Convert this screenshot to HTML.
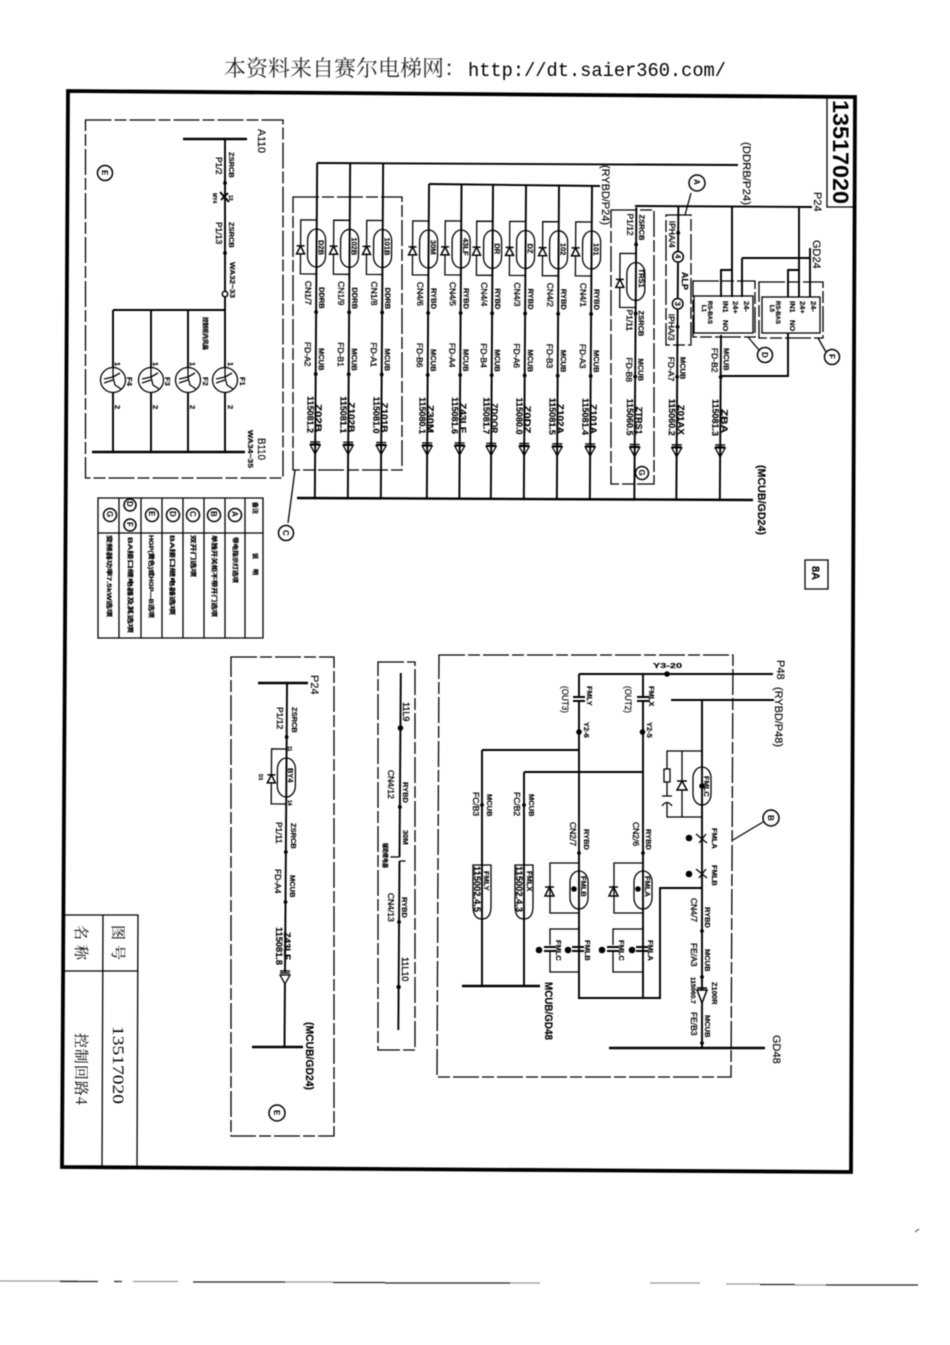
<!DOCTYPE html>
<html><head><meta charset="utf-8"><style>
html,body{margin:0;padding:0;background:#fff}
svg{display:block;filter:blur(.4px)}
text{font-family:"Liberation Sans","Noto Sans CJK SC",sans-serif;fill:#000;stroke:none}
.b{font-size:7.5px;font-weight:bold;stroke:#000;stroke-width:.15}
.r{font-size:8.5px;stroke:#000;stroke-width:.3}
.n{font-size:9px;font-weight:bold;stroke:#000;stroke-width:.15}
.m{font-size:11px;stroke:#000;stroke-width:.15}
.s{font-size:6px;font-weight:bold;stroke:#000;stroke-width:.2}
.c{font-size:8px;font-weight:bold}
.cn{font-family:"Noto Serif CJK SC",serif}
.w{stroke:#000;stroke-width:1.9;fill:none}
.h{stroke:#000;stroke-width:2.4;fill:none}
.l{stroke:#000;stroke-width:1.3;fill:none}
.d{stroke:#000;stroke-width:1.3;fill:none;stroke-dasharray:26 3 12 3}
.f{fill:#000;stroke:none}
.o{fill:#fff;stroke:#000;stroke-width:1.5}
</style></head><body>
<svg xmlns="http://www.w3.org/2000/svg" width="950" height="1345" viewBox="0 0 950 1345">
<defs>
<g id="a"><path class="l" d="M-5 443H5M-5 445H5"/><path class="l" d="M-5 446H5L0 455Z"/><circle class="f" cx="0" cy="375" r="1.9"/></g>
<g id="k"><rect x="-9" y="-19" width="18" height="38" rx="9" ry="11" class="l"/><path class="l" d="M0 -28H-16V26H0M-16 -8V8"/><path class="o" d="M-20 6H-12L-16 -2ZM-20 -2H-12"/></g>
<g id="c"><use href="#k" y="249"/><use href="#a"/><circle class="f" cx="0" cy="313" r="1.9"/></g>
<g id="kk"><rect x="-9" y="-19" width="18" height="38" rx="9" ry="11" class="l"/><path class="o" d="M-34 6H-25L-29.500 -3ZM-34 -3H-25"/><path class="l" d="M0 -27H-29V23H0"/></g>
<g id="fan"><circle r="12.500" class="l"/><path class="l" d="M0 -12.500V-2M-9 -1L0 -3L7 -7M0 -3L2 5L8 9M-9 3L0 0"/></g>
</defs>
<!-- frame -->
<path d="M68 91L855 97L851 1172L62 1167Z" fill="none" stroke="#000" stroke-width="3.800"/>
<path class="l" d="M827 97V207H855M65 915H138L137 1167M103 915L102 1167M65 971H138"/>
<path class="l" d="M805 560H828V589H805Z"/>
<text x="224" y="76" font-size="22" class="cn" fill-opacity=".85">本资料来自赛尔电梯网：</text>
<text x="468" y="76" font-size="19" textLength="258" lengthAdjust="spacingAndGlyphs" style="font-family:'Liberation Mono',monospace">http://dt.saier360.com/</text>
<!-- noise line -->
<path d="M0 1281H78M133 1281.500H178M285 1282H333M510 1283H540M650 1283H700M726 1284H760M795 1285H826" stroke="#999" stroke-width="1.200"/>
<path d="M60 1281.500H98M114 1281.500H122M193 1282H285M333 1282.500H385M385 1283H510M760 1284.500H795M826 1285H918" stroke="#222" stroke-width="1.200"/>
<path d="M915 1232l4 -3" stroke="#444"/>

<!-- buses -->
<path class="w" d="M317 163L738 165M429 184L600 186"/>
<path class="h" d="M297 498L753 500"/>
<path class="w" d="M635 206L812 207M742 258H810M810 248V297M742 258V297M732 207V297M721 297V270H732M799 207V297M788 297V270H799M788 333V376H721"/>
<!-- dashed boxes -->
<rect class="d" x="293" y="197" width="109" height="273"/>
<rect class="d" x="611" y="210" width="43" height="274"/>
<rect class="d" x="666" y="215" width="25" height="130"/>
<rect class="d" x="693" y="281" width="62" height="56"/>
<rect class="d" x="759" y="282" width="64" height="56"/>
<rect class="l" x="694" y="296" width="59" height="37"/>
<rect class="l" x="762" y="297" width="58" height="36"/>
<rect class="d" x="85.500" y="120" width="197.500" height="358"/>
<rect class="d" x="231" y="657" width="103" height="479"/>
<rect class="d" x="378" y="662" width="37" height="388"/>
<path class="d" d="M439 655H733L731 1077H437Z"/>
<!-- columns -->
<g transform="translate(316 -1)rotate(.4 0 330)"><path class="w" d="M0 164V498"/><use href="#c"/><g transform="rotate(90)"><text class="b" x="241" y="-2">D2B</text><text class="r" x="282" y="11">CN1/7</text><text class="b" x="288" y="-3">DDRB</text><text class="r" x="343" y="11">FD-A2</text><text class="b" x="349" y="-3">MCUB</text><text class="n" x="397" y="8">115081.2</text><text class="n" x="405" y="0" textLength="28" lengthAdjust="spacingAndGlyphs">Z02B</text></g></g>
<g transform="translate(349 -.7)rotate(.4 0 330)"><path class="w" d="M0 164V498"/><use href="#c"/><g transform="rotate(90)"><text class="b" x="238" y="-2">102B</text><text class="r" x="282" y="11">CN1/9</text><text class="b" x="288" y="-3">DDRB</text><text class="r" x="343" y="11">FD-B1</text><text class="b" x="349" y="-3">MCUB</text><text class="n" x="397" y="8">115081.1</text><text class="n" x="403" y="0" textLength="30" lengthAdjust="spacingAndGlyphs">Z102B</text></g></g>
<g transform="translate(382 -.5)rotate(.4 0 330)"><path class="w" d="M0 164V498"/><use href="#c"/><g transform="rotate(90)"><text class="b" x="238" y="-2">101B</text><text class="r" x="282" y="11">CN1/8</text><text class="b" x="288" y="-3">DDRB</text><text class="r" x="343" y="11">FD-A1</text><text class="b" x="349" y="-3">MCUB</text><text class="n" x="397" y="8">115081.0</text><text class="n" x="403" y="0" textLength="30" lengthAdjust="spacingAndGlyphs">Z101B</text></g></g>
<g transform="translate(428 0)rotate(.4 0 330)"><path class="w" d="M0 184V498"/><use href="#c"/><g transform="rotate(90)"><text class="b" x="240" y="-2">30M</text><text class="r" x="282" y="11">CN4/6</text><text class="b" x="288" y="-3">RYBD</text><text class="r" x="343" y="11">FD-B6</text><text class="b" x="349" y="-3">MCUB</text><text class="n" x="397" y="8">115080.1</text><text class="n" x="405" y="0" textLength="28" lengthAdjust="spacingAndGlyphs">Z30M</text></g></g>
<g transform="translate(460.500 0)rotate(.4 0 330)"><path class="w" d="M0 184V498"/><use href="#c"/><g transform="rotate(90)"><text class="b" x="238" y="-2">43LF</text><text class="r" x="282" y="11">CN4/5</text><text class="b" x="288" y="-3">RYBD</text><text class="r" x="343" y="11">FD-A4</text><text class="b" x="349" y="-3">MCUB</text><text class="n" x="397" y="8">115081.6</text><text class="n" x="403" y="0" textLength="30" lengthAdjust="spacingAndGlyphs">Z43LF</text></g></g>
<g transform="translate(492 .3)rotate(.4 0 330)"><path class="w" d="M0 184V498"/><use href="#c"/><g transform="rotate(90)"><text class="b" x="243" y="-2">DR</text><text class="r" x="282" y="11">CN4/4</text><text class="b" x="288" y="-3">RYBD</text><text class="r" x="343" y="11">FD-B4</text><text class="b" x="349" y="-3">MCUB</text><text class="n" x="397" y="8">115081.7</text><text class="n" x="403" y="0" textLength="30" lengthAdjust="spacingAndGlyphs">ZDOOR</text></g></g>
<g transform="translate(525 .5)rotate(.4 0 330)"><path class="w" d="M0 184V498"/><use href="#c"/><g transform="rotate(90)"><text class="b" x="243" y="-2">DZ</text><text class="r" x="282" y="11">CN4/3</text><text class="b" x="288" y="-3">RYBD</text><text class="r" x="343" y="11">FD-A6</text><text class="b" x="349" y="-3">MCUB</text><text class="n" x="397" y="8">115080.0</text><text class="n" x="405" y="0" textLength="28" lengthAdjust="spacingAndGlyphs">Z0DZ</text></g></g>
<g transform="translate(558 .8)rotate(.4 0 330)"><path class="w" d="M0 184V498"/><use href="#c"/><g transform="rotate(90)"><text class="b" x="242" y="-2">102</text><text class="r" x="282" y="11">CN4/2</text><text class="b" x="288" y="-3">RYBD</text><text class="r" x="343" y="11">FD-B3</text><text class="b" x="349" y="-3">MCUB</text><text class="n" x="397" y="8">115081.5</text><text class="n" x="403" y="0" textLength="30" lengthAdjust="spacingAndGlyphs">Z102A</text></g></g>
<g transform="translate(591 1)rotate(.4 0 330)"><path class="w" d="M0 184V498"/><use href="#c"/><g transform="rotate(90)"><text class="b" x="242" y="-2">101</text><text class="r" x="282" y="11">CN4/1</text><text class="b" x="288" y="-3">RYBD</text><text class="r" x="343" y="11">FD-A3</text><text class="b" x="349" y="-3">MCUB</text><text class="n" x="397" y="8">115081.4</text><text class="n" x="403" y="0" textLength="30" lengthAdjust="spacingAndGlyphs">Z101A</text></g></g>
<!-- G col -->
<g transform="translate(635.500 1.500)rotate(.4 0 330)"><path class="w" d="M0 206V498"/><use href="#k" y="280"/><use href="#a"/><circle class="f" cy="243" r="1.900"/><circle class="f" cy="312" r="1.900"/><g transform="rotate(90)"><text class="b" x="267" y="-3">TRS1</text><text class="r" x="212" y="9">P1/12</text><text class="b" x="213" y="-3">ZSRCB</text><text class="r" x="308" y="9">P1/11</text><text class="b" x="309" y="-3">ZSRCB</text><text class="r" x="356" y="9">FD-B8</text><text class="b" x="357" y="-3">MCUB</text><text class="n" x="397" y="8">115060.5</text><text class="n" x="405" y="-1" textLength="28" lengthAdjust="spacingAndGlyphs">ZTRS1</text></g></g>
<circle class="o" cx="642" cy="473" r="6.500"/><text class="c" transform="translate(639 469.500)rotate(90)">G</text>
<!-- ALP col -->
<g transform="translate(677.500 1.800)rotate(.4 0 330)"><path class="w" d="M0 205V498"/><use href="#a"/><circle class="f" cy="231" r="1.900"/><circle class="f" cy="325" r="1.900"/><circle class="o" cy="255" r="5.300"/><circle class="o" cy="302" r="5.300"/><g transform="rotate(90)"><text class="b" x="252.500" y="2.500">4</text><text class="b" x="300" y="2.500">3</text><text class="r" x="219" y="9">IPHA/4</text><text class="r" x="312" y="9">IPHA/3</text><text class="b" x="270" y="-4" style="font-size:9px">ALP</text><text class="r" x="355" y="9">FD-A7</text><text class="b" x="355" y="-3">MCUB</text><text class="n" x="397" y="8">115060.2</text><text class="n" x="403" y="-1" textLength="30" lengthAdjust="spacingAndGlyphs">Z01AX</text></g></g>
<!-- BA col -->
<g transform="translate(721 2)rotate(.4 0 330)"><path class="w" d="M0 333V498"/><use href="#a"/><g transform="rotate(90)"><text class="r" x="346" y="9">FD-B2</text><text class="b" x="346" y="-3">MCUB</text><text class="n" x="397" y="8">115081.3</text><text class="n" x="407" y="-1" textLength="24" lengthAdjust="spacingAndGlyphs">ZBA</text></g></g>
<path class="l" d="M691 193L685 215M748 337L759 350M818 338L826 352M295 470L288 523M733 840L763 822"/>
<circle class="o" cx="697" cy="183" r="8"/><circle class="o" cx="765" cy="355" r="7.500"/><circle class="o" cx="832" cy="357" r="7.500"/><circle class="o" cx="286" cy="533" r="7.500"/><circle class="o" cx="771" cy="818" r="8"/><circle class="o" cx="105" cy="173" r="7.500"/><circle class="o" cx="277" cy="1113" r="8"/>

<!-- E fans -->
<path class="h" d="M183 139H247M92 452H245"/>
<path class="w" d="M225 139V367M225 393V452M113 310H225M113 310V367M113 393V452M151 310V367M151 393V452M188 310V367M188 393V452"/>
<circle class="f" cx="225" cy="183" r="1.900"/><circle class="f" cx="225" cy="253" r="1.900"/><circle class="o" cx="225" cy="294" r="2.700"/>
<path class="w" d="M220 192L229 202M221 200L228 193"/>
<use href="#fan" x="113" y="380"/><use href="#fan" x="151" y="380"/><use href="#fan" x="188" y="380"/><use href="#fan" x="225" y="380"/>
<!-- BY4 col -->
<path class="h" d="M258 683H308M252 1047H303"/>
<g transform="translate(285.800 0)rotate(.4 0 860)"><path class="w" d="M0 683V972M0 984V1047"/><rect x="-9" y="758" width="18" height="39" rx="9" ry="11" class="l"/><path class="l" d="M0 749H-15V804H0"/><path class="o" d="M-19 783H-11L-15 775ZM-19 775H-11"/><circle class="f" cy="737" r="1.900"/><circle class="f" cy="852" r="1.900"/><circle class="f" cy="902" r="1.900"/><path class="l" d="M-5 971H5M-5 973H5M-5 975H5L0 984Z"/></g>
<!-- 30M col -->
<g transform="translate(399.500 0)rotate(.4 0 860)"><path class="w" d="M0 673V857M0 861V1030"/><path class="l" d="M-9 857H0M0 861H6"/><circle class="f" cy="728" r="2.800"/><circle class="f" cy="807" r="1.900"/><circle class="f" cy="922" r="1.900"/><circle class="f" cy="987" r="2.200"/></g>
<!-- B section -->
<path class="w" d="M579 674H773M671 700H774M579 674V697M579 701V998M643 674V697M643 701V998M578 998H660V888H702M482 750H579M524 772H642M482 750V986M524 772V986"/>
<path class="w" d="M702 700V1048"/>
<path class="h" d="M462 986H540M609 1048H765"/>
<path class="w" d="M573 697H585M573 701H585M637 697H649M637 701H649"/>
<circle class="f" cx="667" cy="674" r="2.800"/><circle class="f" cx="579" cy="732" r="2.800"/><circle class="f" cx="642.500" cy="732" r="2.800"/>
<circle class="f" cx="482" cy="805" r="1.900"/><circle class="f" cx="524" cy="805" r="1.900"/><circle class="f" cx="579" cy="853" r="1.900"/><circle class="f" cx="643" cy="853" r="1.900"/>
<circle class="f" cx="702" cy="931" r="1.900"/><circle class="f" cx="702" cy="977" r="1.900"/><circle class="f" cx="702" cy="1043" r="1.900"/>
<path class="l" d="M473 865V906Q473 919 482 919Q491 919 491 906V865ZM515 865V906Q515 919 524 919Q533 919 533 906V865Z"/>
<rect class="l" x="693" y="767" width="18" height="38" rx="9" ry="11"/>
<path class="l" d="M702 751H667V769M667 782V796M667 803V817H702M682 751V817"/>
<rect class="l" x="664" y="769" width="6" height="13"/>
<path class="l" d="M662 796H672M662 806Q667 799 672 806"/>
<path class="o" d="M677 790H687L682 781ZM677 781H687"/>
<path class="l" d="M696 834L707 843M699 843L706 834M696 869L707 878M699 878L706 869"/>
<circle class="f" cx="689" cy="838" r="3.300"/><circle class="f" cx="689" cy="874" r="3.300"/>
<use href="#kk" x="579" y="890"/><use href="#kk" x="643" y="890"/>
<path class="l" d="M579 929H550V945M550 951V972H579M643 929H613V945M613 951V972H643"/>
<path class="w" d="M544 947H556M544 951H556M607 947H619M607 951H619M572 947H584M572 951H584M636 947H648M636 951H648"/>
<circle class="f" cx="539" cy="950" r="3.300"/><circle class="f" cx="568" cy="950" r="3.300"/><circle class="f" cx="602" cy="950" r="3.300"/><circle class="f" cx="632" cy="950" r="3.300"/>
<circle class="f" cx="574" cy="889" r="2.800"/><circle class="f" cx="638" cy="889" r="2.800"/><circle class="f" cx="702" cy="786" r="2.800"/>
<path class="o" d="M697 990H707L702 1003ZM697 988H707"/>
<!-- table -->
<path class="l" d="M98 498H263V638H98ZM98 533H263M119 498V638M141 498V638M162 498V638M183 498V638M204 498V638M225 498V638M245 498V638"/>
<circle class="o" cx="110" cy="515" r="6.500"/><circle class="o" cx="130" cy="505" r="6"/><circle class="o" cx="130" cy="525" r="6"/><circle class="o" cx="152" cy="515" r="6.500"/><circle class="o" cx="173" cy="515" r="6.500"/><circle class="o" cx="193" cy="515" r="6.500"/><circle class="o" cx="214" cy="515" r="6.500"/><circle class="o" cx="235" cy="515" r="6.500"/>

<g transform="rotate(90)">
<text font-size="22" font-weight="bold" x="100" y="-833" textLength="104" lengthAdjust="spacingAndGlyphs">13517020</text>
<text class="m" x="142" y="-743" textLength="63" lengthAdjust="spacingAndGlyphs">(DDRB/P24)</text>
<text class="m" x="165" y="-602" textLength="60" lengthAdjust="spacingAndGlyphs">(RYBD/P24)</text>
<text class="m" x="192" y="-814">P24</text>
<text class="m" x="240" y="-813">GD24</text>
<text class="m" font-weight="bold" x="465" y="-758" textLength="70" lengthAdjust="spacingAndGlyphs">(MCUB/GD24)</text>
<text class="m" font-weight="bold" x="566" y="-812">8A</text>
<text class="b" x="301" y="-723">IN1</text><text class="b" x="301" y="-733">24+</text><text class="b" x="301" y="-744">24-</text><text class="b" x="320" y="-723">NO</text>
<text class="b" x="301" y="-790">IN1</text><text class="b" x="301" y="-800">24+</text><text class="b" x="301" y="-811">24-</text><text class="b" x="320" y="-790">NO</text>
<text class="s" x="301" y="-708">RS-BAS</text><text class="s" x="305" y="-702">L1</text>
<text class="s" x="301" y="-776">RS-BAS</text><text class="s" x="305" y="-770">L5</text>
<text class="c" x="179" y="-694">A</text><text class="c" x="352" y="-762">D</text><text class="c" x="354" y="-829">F</text><text class="c" x="530" y="-283">C</text><text class="c" x="815" y="-768">B</text><text class="c" x="170" y="-102">E</text><text class="c" x="1110" y="-274">E</text>
<!-- E text -->
<text class="m" x="129" y="-258" textLength="24" lengthAdjust="spacingAndGlyphs">A110</text>
<text class="m" x="438" y="-258" textLength="22" lengthAdjust="spacingAndGlyphs">B110</text>
<text class="b" x="430" y="-248" textLength="38" lengthAdjust="spacingAndGlyphs">WA34~35</text>
<text class="b" x="152" y="-229">ZSRCB</text><text class="r" x="157" y="-216">P1/2</text>
<text class="s" x="193" y="-213" style="font-size:5px">MY4</text><text class="s" x="195" y="-229" style="font-size:5px">13</text>
<text class="b" x="222" y="-229">ZSRCB</text><text class="r" x="222" y="-216">P1/13</text>
<text class="b" x="262" y="-230" textLength="36" lengthAdjust="spacingAndGlyphs">WA32~33</text>
<text class="s" x="317" y="-203" textLength="33" lengthAdjust="spacingAndGlyphs">控制柜内风扇</text>
<text class="b" x="362" y="-228">1</text><text class="b" x="362" y="-190">1</text><text class="b" x="362" y="-153">1</text><text class="b" x="362" y="-115">1</text>
<text class="b" x="405" y="-228">2</text><text class="b" x="405" y="-190">2</text><text class="b" x="405" y="-153">2</text><text class="b" x="405" y="-115">2</text>
<text class="b" x="377" y="-240">F1</text><text class="b" x="377" y="-203">F2</text><text class="b" x="377" y="-165">F3</text><text class="b" x="377" y="-127">F4</text>
<!-- table text -->
<text class="s" x="502" y="-253">备注</text><text class="s" x="553" y="-253" textLength="22">说 明</text>
<text class="c" x="511" y="-232">A</text><text class="c" x="511" y="-211">B</text><text class="c" x="511" y="-190">C</text><text class="c" x="511" y="-170">D</text><text class="c" x="511" y="-149">E</text><text class="c" x="501" y="-127">D</text><text class="c" x="522" y="-127">F</text><text class="c" x="511" y="-107">G</text>
<text class="s" x="537" y="-233" textLength="46" lengthAdjust="spacingAndGlyphs">带电指示灯选项</text>
<text class="s" x="535" y="-212" textLength="82" lengthAdjust="spacingAndGlyphs">单独开关柜不带开门选项</text>
<text class="s" x="535" y="-191" textLength="42" lengthAdjust="spacingAndGlyphs">双开门选项</text>
<text class="s" x="535" y="-170" textLength="80" lengthAdjust="spacingAndGlyphs">BA接口继电器选项</text>
<text class="s" x="535" y="-149" textLength="83" lengthAdjust="spacingAndGlyphs">HGP(黄色)或HGP—B选项</text>
<text class="s" x="537" y="-128" textLength="96" lengthAdjust="spacingAndGlyphs">BA接口继电器及其选项</text>
<text class="s" x="535" y="-107" textLength="82" lengthAdjust="spacingAndGlyphs">变频器功率7.5kW选项</text>
<!-- BY4 -->
<text class="m" x="675" y="-311">P24</text>
<text class="b" x="707" y="-292">ZSRCB</text><text class="r" x="707" y="-277">P1/12</text>
<text class="b" x="768" y="-288">BY4</text><text class="s" x="774" y="-259" style="font-size:5px">D1</text>
<text class="s" x="746" y="-288" style="font-size:5px">11</text><text class="s" x="800" y="-288" style="font-size:5px">14</text>
<text class="b" x="823" y="-291">ZSRCB</text><text class="r" x="822" y="-276">P1/11</text>
<text class="r" x="869" y="-275">FD-A4</text><text class="b" x="875" y="-290">MCUB</text>
<text class="n" x="927" y="-276" textLength="38" lengthAdjust="spacingAndGlyphs">115081.8</text>
<text class="n" x="932" y="-284" textLength="28" lengthAdjust="spacingAndGlyphs">Z43LF</text>
<text class="m" font-weight="bold" x="1022" y="-306" textLength="68" lengthAdjust="spacingAndGlyphs">(MCUB/GD24)</text>
<!-- 30M -->
<text class="r" x="702" y="-403" style="font-size:9px">11L9</text>
<text class="b" x="782" y="-403">RYBD</text><text class="r" x="770" y="-388">CN4/12</text>
<text class="b" x="830" y="-403">30M</text><text class="s" x="843" y="-383" textLength="25" lengthAdjust="spacingAndGlyphs">辅助继电器</text>
<text class="r" x="893" y="-388">CN4/13</text><text class="b" x="897" y="-402">RYBD</text>
<text class="r" x="957" y="-402" style="font-size:9px">11L10</text>
<!-- B text -->
<text class="m" x="660" y="-777">P48</text>
<text class="m" x="687" y="-775" textLength="60" lengthAdjust="spacingAndGlyphs">(RYBD/P48)</text>
<text class="b" x="686" y="-587">FMLY</text><text class="m" x="686" y="-562" textLength="27" lengthAdjust="spacingAndGlyphs" style="font-size:9px">(OUT3)</text>
<text class="b" x="686" y="-649">FMLX</text><text class="m" x="686" y="-625" textLength="27" lengthAdjust="spacingAndGlyphs" style="font-size:9px">(OUT2)</text>
<text class="b" x="722" y="-584">Y2-6</text><text class="b" x="722" y="-647">Y2-5</text>
<text class="r" x="792" y="-473">FC/B3</text><text class="b" x="794" y="-487">MCUB</text>
<text class="r" x="792" y="-514">FC/B2</text><text class="b" x="794" y="-529">MCUB</text>
<text class="r" x="822" y="-570">CN2/7</text><text class="b" x="829" y="-584">RYBD</text>
<text class="r" x="822" y="-633">CN2/6</text><text class="b" x="829" y="-646">RYBD</text>
<text class="b" x="871" y="-484">FMLY</text><text class="n" x="866" y="-474" textLength="46" lengthAdjust="spacingAndGlyphs">115002.4.5</text>
<text class="b" x="871" y="-527">FMLX</text><text class="n" x="866" y="-516" textLength="46" lengthAdjust="spacingAndGlyphs">115002.4.3</text>
<text class="b" x="776" y="-704">FMLC</text>
<text class="b" x="828" y="-712">FMLA</text><text class="b" x="865" y="-712">FMLB</text>
<text class="b" x="876" y="-581">FMLB</text><text class="b" x="876" y="-645">FMLA</text>
<text class="b" x="940" y="-556">FMLC</text><text class="b" x="940" y="-585">FMLB</text><text class="b" x="940" y="-619">FMLC</text><text class="b" x="940" y="-648">FMLA</text>
<text class="r" x="898" y="-691">CN4/7</text><text class="b" x="907" y="-705">RYBD</text>
<text class="r" x="943" y="-691">FE/A3</text><text class="b" x="949" y="-705">MCUB</text>
<text class="s" x="977" y="-691" style="font-size:6.500px">115060.7</text><text class="b" x="982" y="-712">Z100R</text>
<text class="r" x="1012" y="-691">FE/B3</text><text class="b" x="1015" y="-705">MCUB</text>
<text class="m" x="1035" y="-773">GD48</text>
<text class="m" x="982" y="-545" textLength="58" lengthAdjust="spacingAndGlyphs" font-weight="bold">MCUB/GD48</text>
<!-- title block -->
<text class="cn" font-size="15" x="925" y="-113" textLength="35">图号</text>
<text class="cn" font-size="15" x="925" y="-76" textLength="35">名称</text>
<text font-size="16" x="1026" y="-113" textLength="78" lengthAdjust="spacingAndGlyphs" style="font-family:'Liberation Serif',serif">13517020</text>
<text class="cn" font-size="15" x="1033" y="-76" textLength="72">控制回路4</text>
</g>
<text x="653" y="668" class="b" textLength="29" lengthAdjust="spacingAndGlyphs">Y3-20</text>
</svg>
</body></html>
